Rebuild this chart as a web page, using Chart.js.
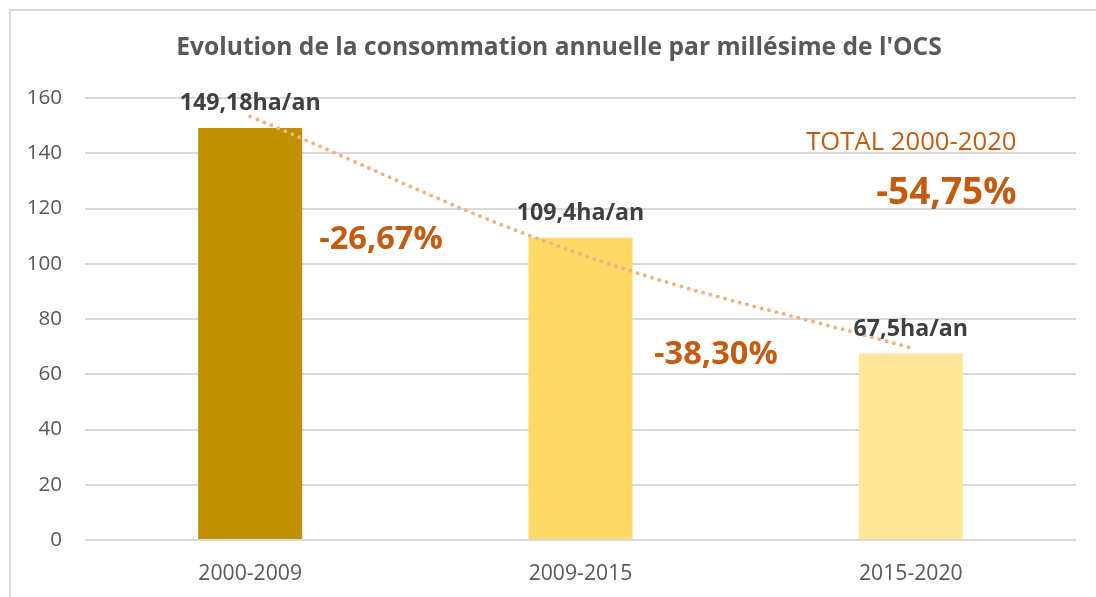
<!DOCTYPE html>
<html>
<head>
<meta charset="utf-8">
<script src="https://cdn.jsdelivr.net/npm/chart.js@4.4.1/dist/chart.umd.min.js"></script>
<style>
  html, body { margin: 0; padding: 0; background: #fff; }
  #wrap { position: relative; width: 1096px; height: 597px; }
  #frame { position: absolute; left: 9px; top: 9px; right: -4px; bottom: -4px; border: 2px solid #d9d9d9; }
  canvas { position: absolute; left: 0; top: 0; }
</style>
</head>
<body>
<div id="wrap">
  <div id="frame"></div>
  <canvas id="conso" width="1096" height="597"></canvas>
</div>
<script>
const periods = ["2000-2009", "2009-2015", "2015-2020"];
const haPerYear = [149.18, 109.4, 67.5];
const valueLabels = ["149,18ha/an", "109,4ha/an", "67,5ha/an"];
const barColors = ["#BF9000", "#FFD966", "#FFE699"];
// exponential trend
const trend = [153.3, 103.5, 69.5];
const changes = ["-26,67%", "-38,30%"];
const totalTitle = "TOTAL 2000-2020";
const totalChange = "-54,75%";

const FONT = "'Open Sans', sans-serif";
const ORANGE = "#C55A11";

const overlay = {
  id: "overlay",
  afterDatasetsDraw(chart) {
    const { ctx, scales: { x, y } } = chart;
    ctx.save();
    ctx.textBaseline = "middle";

    // title
    ctx.fillStyle = "#595959";
    ctx.font = "bold 24.6px " + FONT;
    ctx.textAlign = "center";
    ctx.fillText("Evolution de la consommation annuelle par millésime de l'OCS", 559, 48);

    // values above bars
    ctx.fillStyle = "#404040";
    ctx.font = "bold 23.2px " + FONT;
    haPerYear.forEach((v, i) => {
      ctx.fillText(valueLabels[i], x.getPixelForValue(i), y.getPixelForValue(v) - 24);
    });

    // change between periods
    ctx.fillStyle = ORANGE;
    ctx.font = "bold 32.6px " + FONT;
    ctx.fillText(changes[0], x.getPixelForValue(0.396), y.getPixelForValue(108.6));
    ctx.fillText(changes[1], x.getPixelForValue(1.41), y.getPixelForValue(67));

    // total
    ctx.textAlign = "right";
    ctx.font = "25.7px " + FONT;
    ctx.fillText(totalTitle, x.getPixelForValue(2.32), y.getPixelForValue(143.7));
    ctx.font = "bold 37px " + FONT;
    ctx.fillText(totalChange, x.getPixelForValue(2.32), y.getPixelForValue(125.6));
    ctx.restore();
  }
};

new Chart(document.getElementById("conso"), {
  data: {
    labels: periods,
    datasets: [
      {
        type: "line",
        data: trend,
        borderColor: "#F4B183",
        borderWidth: 4,
        borderDash: [0, 7.6],
        borderCapStyle: "round",
        pointRadius: 0,
        tension: 0.4,
        order: 0
      },
      {
        type: "bar",
        data: haPerYear,
        backgroundColor: barColors,
        barPercentage: 0.315,
        categoryPercentage: 1,
        order: 1
      }
    ]
  },
  options: {
    responsive: false,
    animation: false,
    layout: { padding: { left: 27, right: 20, top: 98, bottom: 0 } },
    plugins: {
      legend: { display: false },
      tooltip: { enabled: false }
    },
    scales: {
      x: {
        grid: { display: false },
        border: { display: false },
        ticks: { color: "#595959", font: { family: FONT, size: 21.2 }, padding: 13 },
        afterFit(scale) { scale.height = 57; }
      },
      y: {
        min: 0,
        max: 160,
        grid: { color: "#d9d9d9", lineWidth: 2, drawTicks: false },
        border: { display: false },
        ticks: { stepSize: 20, color: "#595959", font: { family: FONT, size: 20.6 }, padding: 23 },
        afterFit(scale) { scale.width = 58; }
      }
    }
  },
  plugins: [overlay]
});
</script>
</body>
</html>
